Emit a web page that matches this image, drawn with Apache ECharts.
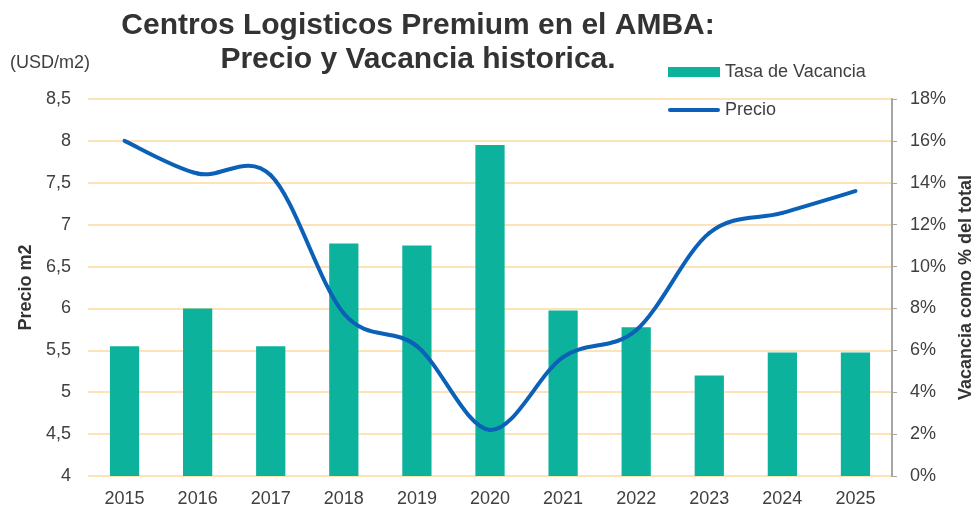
<!DOCTYPE html>
<html>
<head>
<meta charset="utf-8">
<script src="https://cdn.jsdelivr.net/npm/echarts@6/dist/echarts.min.js"></script>
<style>
  html, body { margin: 0; padding: 0; background: #fff; }
  #chart { width: 973px; height: 508px; }
</style>
</head>
<body>
<div id="chart"></div>
<script>
// datos
const years = ['2015', '2016', '2017', '2018', '2019', '2020', '2021', '2022', '2023', '2024', '2025'];
const vacancia = [6.2, 8.0, 6.2, 11.1, 11.0, 15.8, 7.9, 7.1, 4.8, 5.9, 5.9];
const precio = [8.0, 7.61, 7.59, 5.94, 5.55, 4.55, 5.42, 5.74, 6.9, 7.14, 7.4];

const font = 'Liberation Sans, Arial, sans-serif';
const txt = '#404040';
const azul = '#0b60b8';

// linea suavizada tipo Excel (Catmull-Rom), segmento i -> i+1
function renderPrecio(params, api) {
    const i = params.dataIndex;
    if (i >= precio.length - 1) return;
    const pt = k => {
        const j = Math.max(0, Math.min(precio.length - 1, k));
        return api.coord([j, precio[j]]);
    };
    const p0 = pt(i - 1), p1 = pt(i), p2 = pt(i + 1), p3 = pt(i + 2);
    return {
        type: 'bezierCurve',
        shape: {
            x1: p1[0], y1: p1[1],
            x2: p2[0], y2: p2[1],
            cpx1: p1[0] + (p2[0] - p0[0]) / 6, cpy1: p1[1] + (p2[1] - p0[1]) / 6,
            cpx2: p2[0] - (p3[0] - p1[0]) / 6, cpy2: p2[1] - (p3[1] - p1[1]) / 6
        },
        style: { stroke: azul, lineWidth: 4, fill: null, lineCap: 'round' }
    };
}

var myChart = echarts.init(document.getElementById('chart'));
myChart.setOption({
    animation: false,
    textStyle: { fontFamily: font },
    graphic: [
        {
            type: 'text', x: 418, y: 9,
            style: {
                text: 'Centros Logisticos Premium en el AMBA:\nPrecio y Vacancia historica.',
                textAlign: 'center', fill: '#333', font: 'bold 30px ' + font, lineHeight: 34
            }
        },
        {
            type: 'text', x: 10, y: 54,
            style: { text: '(USD/m2)', fill: txt, font: '18px ' + font }
        }
    ],
    legend: {
        orient: 'vertical',
        left: 663,
        top: 58,
        itemWidth: 52,
        itemHeight: 10,
        itemGap: 20,
        textStyle: { fontSize: 18, color: txt, fontFamily: font },
        data: [
            { name: 'Tasa de Vacancia', icon: 'rect' },
            { name: 'Precio', icon: 'path://M2,0H50A2,2 0 0 1 50,4H2A2,2 0 0 1 2,0Z' }
        ]
    },
    grid: { left: 88, right: 81, top: 99, bottom: 32, outerBoundsMode: 'none' },
    xAxis: {
        type: 'category',
        data: years,
        axisLine: { show: false },
        axisTick: { show: false },
        axisLabel: { fontSize: 18, color: txt, margin: 14 }
    },
    yAxis: [
        {
            type: 'value',
            min: 4, max: 8.5, interval: 0.5,
            name: 'Precio m2',
            nameLocation: 'middle',
            nameGap: 45,
            nameTextStyle: { fontSize: 18, fontWeight: 'bold', color: '#333' },
            axisLine: { show: false },
            axisTick: { show: false },
            axisLabel: {
                fontSize: 18, color: txt, margin: 17,
                formatter: v => String(v).replace('.', ',')
            },
            splitLine: { lineStyle: { color: '#fde3b6', width: 2 } }
        },
        {
            type: 'value',
            min: 0, max: 18, interval: 2,
            name: 'Vacancia como % del total',
            nameLocation: 'middle',
            nameGap: 65,
            nameTextStyle: { fontSize: 18, fontWeight: 'bold', color: '#333' },
            axisLine: { show: true, lineStyle: { color: '#a6a6a6', width: 2 } },
            axisTick: { show: true, length: 5, lineStyle: { color: '#a6a6a6' } },
            axisLabel: { fontSize: 18, color: txt, margin: 18, formatter: '{value}%' },
            splitLine: { show: false }
        }
    ],
    series: [
        {
            name: 'Tasa de Vacancia',
            type: 'bar',
            yAxisIndex: 1,
            barWidth: '40%',
            z: 2,
            itemStyle: { color: '#0cb29b' },
            data: vacancia
        },
        {
            name: 'Precio',
            type: 'custom',
            yAxisIndex: 0,
            z: 5,
            itemStyle: { color: azul },
            renderItem: renderPrecio,
            encode: { x: 0, y: 1 },
            data: precio.map((v, i) => [i, v])
        }
    ]
});
</script>
</body>
</html>
